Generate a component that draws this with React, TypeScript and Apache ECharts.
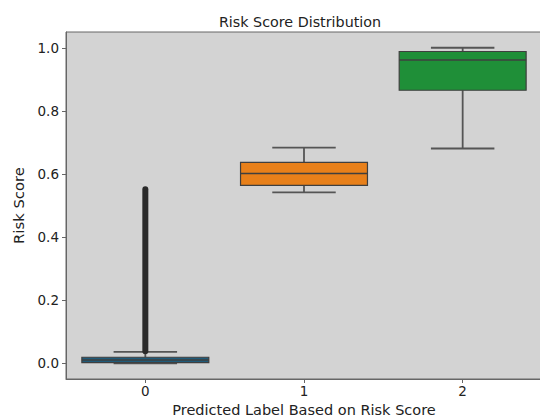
import React, { useEffect, useRef } from "react";
import * as echarts from "echarts";

const categories = ["0", "1", "2"];
// [min whisker, Q1, median, Q3, max whisker]
const boxStats = [
  [0.0, 0.002, 0.01, 0.019, 0.036],
  [0.543, 0.565, 0.603, 0.638, 0.685],
  [0.682, 0.867, 0.963, 0.99, 1.002],
];
const boxColors = ["#1f5b7a", "#e8801a", "#1f8f38"];
// dense flier stack for label 0: [low, high]
const outlierRanges = [[0.038, 0.553], null, null];
const yTicks = [0, 0.2, 0.4, 0.6, 0.8, 1.0];

export default function App() {
  const ref = useRef<HTMLDivElement>(null);
  useEffect(() => {
    const chart = echarts.init(ref.current!, null, { renderer: "svg" });
    const font = "DejaVu Sans";
    const data = boxStats.map((s, i) => [i, ...s]);
    chart.setOption({
      animation: false,
      title: {
        text: "Risk Score Distribution",
        left: 295,
        top: 10,
        textAlign: "center",
        textStyle: { fontFamily: font, fontSize: 14.3, fontWeight: "normal", color: "#222" },
      },
      grid: {
        left: 66,
        right: -2,
        top: 32,
        bottom: 38,
        outerBoundsMode: "none",
        containLabel: false,
        show: true,
        backgroundColor: "#d3d3d3",
        borderColor: "#666",
        borderWidth: 1,
      },
      xAxis: {
        type: "category",
        data: categories,
        boundaryGap: true,
        name: "Predicted Label Based on Risk Score",
        nameLocation: "middle",
        nameGap: 20,
        nameTextStyle: { fontFamily: font, fontSize: 14.5, color: "#222" },
        axisLine: { show: true, onZero: false, lineStyle: { color: "#666" } },
        axisTick: { show: true, alignWithLabel: true, length: 4, lineStyle: { color: "#666" } },
        axisLabel: { fontFamily: font, fontSize: 13.5, color: "#222", margin: 5 },
        splitLine: { show: false },
      },
      yAxis: {
        type: "value",
        min: -0.05,
        max: 1.052,
        name: "Risk Score",
        nameLocation: "middle",
        nameGap: 40,
        nameTextStyle: { fontFamily: font, fontSize: 14.8, color: "#222" },
        axisLine: { show: true, onZero: false, lineStyle: { color: "#666" } },
        axisTick: { show: true, length: 4, lineStyle: { color: "#666" }, customValues: yTicks },
        axisLabel: {
          fontFamily: font,
          fontSize: 13.5,
          color: "#222",
          margin: 7,
          customValues: yTicks,
          formatter: (v: number) => v.toFixed(1),
        },
        splitLine: { show: false },
      },
      series: [
        {
          type: "custom",
          data,
          encode: { x: 0, y: [1, 2, 3, 4, 5] },
          renderItem: (params: any, api: any) => {
            const i = api.value(0);
            const mn = api.value(1), q1 = api.value(2), md = api.value(3), q3 = api.value(4), mx = api.value(5);
            const bw = (api.size([1, 0])[0] as number) * 0.8;
            const cx = api.coord([i, 0])[0];
            const y = (v: number) => api.coord([i, v])[1];
            const color = boxColors[i];
            const edge = "#3f3f3f";
            const wc = "#555";
            const children: any[] = [];
            children.push({ type: "line", shape: { x1: cx, y1: y(q3), x2: cx, y2: y(mx) }, style: { stroke: wc, lineWidth: 1.8 } });
            children.push({ type: "line", shape: { x1: cx, y1: y(q1), x2: cx, y2: y(mn) }, style: { stroke: wc, lineWidth: 1.8 } });
            children.push({ type: "line", shape: { x1: cx - bw / 4, y1: y(mx), x2: cx + bw / 4, y2: y(mx) }, style: { stroke: wc, lineWidth: 1.8 } });
            children.push({ type: "line", shape: { x1: cx - bw / 4, y1: y(mn), x2: cx + bw / 4, y2: y(mn) }, style: { stroke: wc, lineWidth: 1.8 } });
            children.push({
              type: "rect",
              shape: { x: cx - bw / 2, y: y(q3), width: bw, height: Math.max(y(q1) - y(q3), 1) },
              style: { fill: color, stroke: edge, lineWidth: 1.2 },
            });
            children.push({ type: "line", shape: { x1: cx - bw / 2, y1: y(md), x2: cx + bw / 2, y2: y(md) }, style: { stroke: edge, lineWidth: 1.5 } });
            const o = outlierRanges[i];
            if (o) {
              children.push({
                type: "line",
                shape: { x1: cx, y1: y(o[0]), x2: cx, y2: y(o[1]) },
                style: { stroke: "#2a2a2a", lineWidth: 6, lineCap: "round" },
              });
            }
            return { type: "group", children };
          },
        },
      ],
    });
    return () => chart.dispose();
  }, []);
  return <div ref={ref} style={{ width: 540, height: 417, position: "absolute", left: 0, top: 0, background: "#fff" }} />;
}
